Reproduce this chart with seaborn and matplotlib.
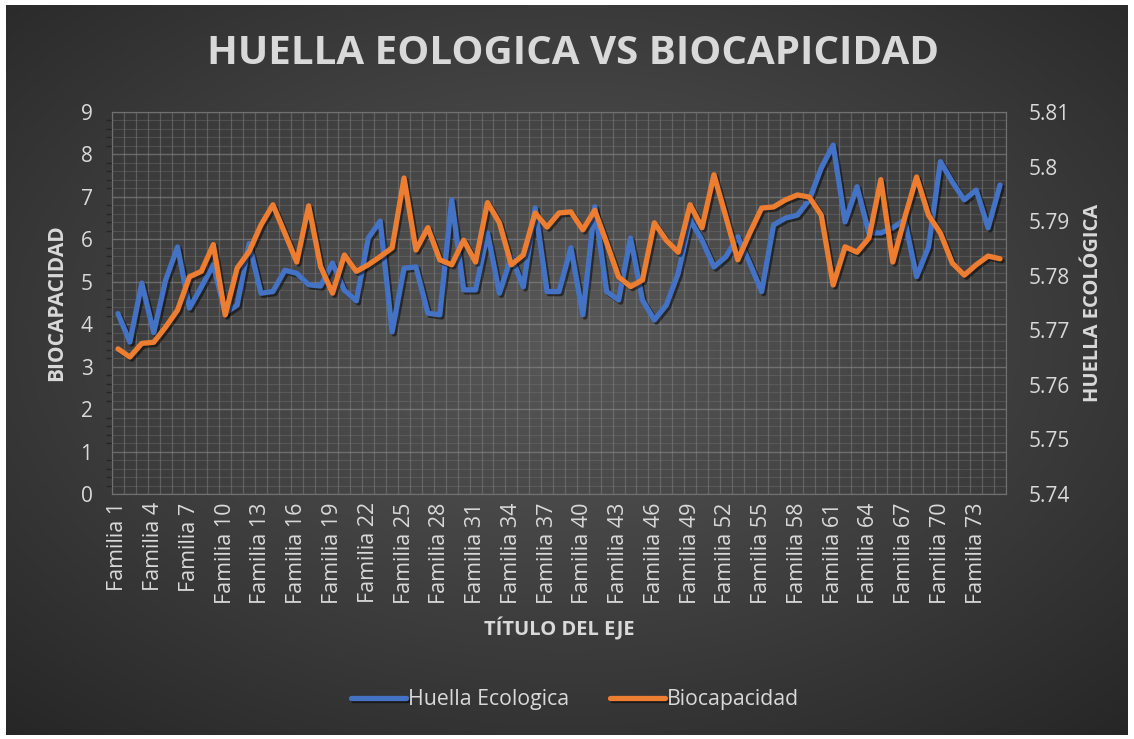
import numpy as np
import pandas as pd
import matplotlib
matplotlib.use("Agg")
from matplotlib import pyplot as plt
import matplotlib.patheffects as pe
from matplotlib.ticker import MultipleLocator
import seaborn as sns

# values
familias = ["Familia %d" % i for i in range(1, 76)]

huella = [4.25, 3.58, 4.97, 3.80, 5.04, 5.82, 4.38, 4.88, 5.40, 4.26,
          4.45, 5.90, 4.73, 4.77, 5.27, 5.20, 4.93, 4.90, 5.44, 4.80,
          4.55, 6.03, 6.43, 3.82, 5.32, 5.35, 4.26, 4.22, 6.93, 4.81,
          4.81, 6.15, 4.73, 5.59, 4.88, 6.74, 4.77, 4.77, 5.80, 4.22,
          6.77, 4.77, 4.57, 6.03, 4.57, 4.10, 4.45, 5.20, 6.46, 5.98,
          5.35, 5.59, 6.06, 5.44, 4.77, 6.34, 6.50, 6.57, 6.93, 7.68,
          8.22, 6.41, 7.24, 6.15, 6.15, 6.27, 6.46, 5.12, 5.82, 7.83,
          7.35, 6.93, 7.16, 6.27, 7.28]

biocap = [5.7666, 5.7651, 5.7676, 5.7678, 5.7706, 5.7737, 5.7798, 5.7808, 5.7857, 5.7728,
          5.7814, 5.7844, 5.7893, 5.7930, 5.7878, 5.7825, 5.7928, 5.7817, 5.7768, 5.7838,
          5.7808, 5.7820, 5.7835, 5.7851, 5.7979, 5.7847, 5.7888, 5.7829, 5.7820, 5.7865,
          5.7825, 5.7934, 5.7897, 5.7820, 5.7838, 5.7915, 5.7889, 5.7915, 5.7917, 5.7884,
          5.7920, 5.7860, 5.7798, 5.7780, 5.7792, 5.7897, 5.7865, 5.7843, 5.7930, 5.7888,
          5.7985, 5.7908, 5.7829, 5.7878, 5.7924, 5.7926, 5.7939, 5.7948, 5.7944, 5.7911,
          5.7783, 5.7853, 5.7843, 5.7869, 5.7976, 5.7825, 5.7906, 5.7981, 5.7911, 5.7878,
          5.7823, 5.7801, 5.7820, 5.7836, 5.7831]

df = pd.DataFrame({"familia": familias, "pos": np.arange(len(familias)),
                   "huella": huella, "biocap": biocap})

sns.set_theme(style="dark")
plt.rcParams['font.family'] = ['Open Sans', 'DejaVu Sans']
txt = "#d9d9d9"
blue = "#4472c4"
orange = "#ed7d31"

fig = plt.figure(figsize=(11.34, 7.39), dpi=100, facecolor="white")

# dark radial background like the Excel style
bg = fig.add_axes([6 / 1134, 4 / 739, 1 - 12 / 1134, 1 - 9 / 739], zorder=-10)
yy, xx = np.mgrid[0:1:300j, 0:1:460j]
r = np.sqrt(((xx - 0.5) / 0.75) ** 2 + ((yy - 0.45) / 0.75) ** 2)
bg.imshow(np.clip(r, 0, 1), cmap=matplotlib.colors.LinearSegmentedColormap.from_list(
    "bg", ["#585858", "#262626"]), aspect="auto", extent=[0, 1, 0, 1], vmin=0, vmax=1)
bg.axis("off")

ax = fig.add_axes([112 / 1134, 1 - 494 / 739, (1006 - 112) / 1134, (494 - 112) / 739])
ax.set_facecolor("none")
ax2 = ax.twinx()

shadow = [pe.SimpleLineShadow(offset=(1.5, -1.5), shadow_color="black", alpha=0.5), pe.Normal()]
sns.lineplot(data=df, x="pos", y="huella", ax=ax, color=blue, linewidth=3.8,
             path_effects=shadow, label="Huella Ecologica", legend=False)
sns.lineplot(data=df, x="pos", y="biocap", ax=ax2, color=orange, linewidth=3.8,
             path_effects=shadow, label="Biocapacidad", legend=False)

ax.set_xlim(-0.5, len(familias) - 0.5)
ax.set_ylim(0, 9)
ax2.set_ylim(5.74, 5.81)
ax.yaxis.set_major_locator(MultipleLocator(1))
ax.yaxis.set_minor_locator(MultipleLocator(0.2))
ax2.yaxis.set_major_locator(MultipleLocator(0.01))
ax2.set_yticklabels([("%.2f" % v).rstrip("0").rstrip(".") for v in ax2.get_yticks()])

ax.set_xticks(df["pos"][::3])
ax.set_xticklabels(df["familia"][::3], rotation=90)
ax.set_xticks(np.arange(-0.5, len(familias), 1), minor=True)

ax.grid(True, which="major", axis="y", color="#8a8a8a", linewidth=1.0, alpha=0.6)
ax.grid(True, which="minor", axis="y", color="#7a7a7a", linewidth=0.8, alpha=0.35)
ax.grid(True, which="minor", axis="x", color="#8a8a8a", linewidth=0.9, alpha=0.45)
ax.grid(False, which="major", axis="x")
ax2.grid(False)
ax.set_axisbelow(True)

for a in (ax, ax2):
    for s in a.spines.values():
        s.set_color("#707070")
        s.set_linewidth(0.8)
    a.tick_params(length=0, colors=txt, labelsize=15)
ax.tick_params(axis="x", labelsize=15.5, pad=6)
ax.tick_params(axis="y", pad=14)
ax2.tick_params(axis="y", pad=16)

ax.set_xlabel("TÍTULO DEL EJE", color=txt, fontsize=14.5, fontweight="bold", labelpad=10)
ax.set_ylabel("BIOCAPACIDAD", color=txt, fontsize=15, fontweight="bold", labelpad=10)
ax2.set_ylabel("HUELLA ECOLÓGICA", color=txt, fontsize=14.5, fontweight="bold", labelpad=10)

fig.text(0.505, 1 - 53 / 739, "HUELLA EOLOGICA VS BIOCAPICIDAD", ha="center", va="center",
         color=txt, fontsize=29, fontweight="bold")

h1, l1 = ax.get_legend_handles_labels()
h2, l2 = ax2.get_legend_handles_labels()
fig.legend(h1 + h2, l1 + l2, loc="center", bbox_to_anchor=(0.507, 1 - 700 / 739), ncol=2,
           frameon=False, fontsize=15.3, labelcolor=txt, handlelength=2.6, handletextpad=0.1,
           columnspacing=1.9)

fig.savefig("out.png", dpi=100, facecolor=fig.get_facecolor())
